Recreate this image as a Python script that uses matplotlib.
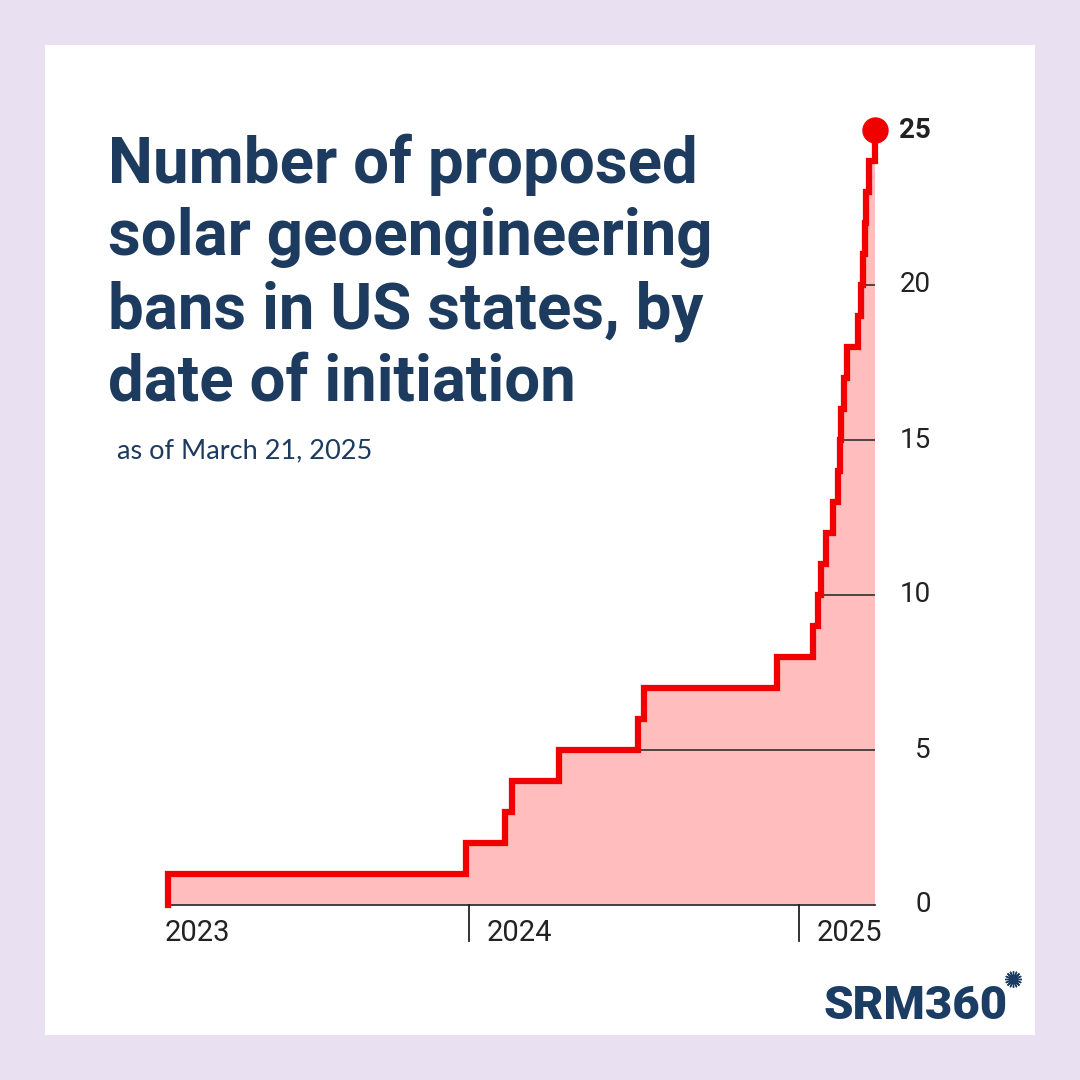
import matplotlib
matplotlib.use("Agg")
import matplotlib.pyplot as plt
import matplotlib.dates as mdates
import matplotlib.transforms as mtransforms
from matplotlib.patches import Rectangle
from datetime import datetime

# cumulative number of proposed bans, by date of initiation
ban_dates = ["2023-02-01", "2023-12-29", "2024-02-10", "2024-02-18", "2024-04-10",
             "2024-07-06", "2024-07-13", "2024-12-08", "2025-01-16", "2025-01-22",
             "2025-01-25", "2025-01-31", "2025-02-08", "2025-02-13", "2025-02-16",
             "2025-02-17", "2025-02-20", "2025-02-23", "2025-03-07", "2025-03-11",
             "2025-03-13", "2025-03-15", "2025-03-16", "2025-03-20", "2025-03-26"]
ban_counts = [1, 2, 3, 4, 5, 6, 7, 8, 9, 10, 11, 12, 13, 14, 15, 16, 17, 18, 19, 20,
              21, 22, 23, 24, 25]
y_ticks = [0, 5, 10, 15, 20, 25]
year_labels = ["2023", "2024", "2025"]

NAVY = "#1D3A5F"
RED = "#F20000"
PINK = "#FFBDBD"
W = 1080.0

x = [mdates.date2num(datetime.strptime(d, "%Y-%m-%d")) for d in ban_dates]
x_years = [mdates.date2num(datetime(int(y), 1, 1)) for y in year_labels]

fig = plt.figure(figsize=(10.8, 10.8), dpi=100)
fig.patch.set_facecolor("#E9E1F1")
fig.add_artist(Rectangle((45 / W, 45 / W), 990 / W, 990 / W, transform=fig.transFigure,
                         facecolor="white", edgecolor="none", zorder=0))

# axes placed so that 2024-01-01 -> px 469, 2025-01-01 -> px 799, 0 -> px 905, 1 unit = 31 px
ax = fig.add_axes([139.9 / W, 1 - 905 / W, (907.2 - 139.9) / W, 806 / W])
ax.set_xlim(mdates.date2num(datetime(2023, 1, 1)), mdates.date2num(datetime(2025, 5, 1)))
ax.set_ylim(0, 26)
ax.axis("off")
ax.patch.set_alpha(0)

fill = ax.fill_between(x, ban_counts, 0, step="post", color=PINK, lw=0, zorder=1)
clip = fill.get_paths()[0]

for v in y_ticks[1:-1]:
    ln, = ax.plot([x[0], x[-1]], [v, v], color="#222222", lw=1.1, zorder=2)
    ln.set_clip_path(clip, ax.transData)

ax.plot([x[0], x[-1]], [0, 0], color="#333333", lw=1.3, zorder=2, clip_on=False)

ax.step([x[0]] + x, [0] + ban_counts, where="post", color=RED, lw=4.5, zorder=3,
        solid_joinstyle="miter", clip_on=False)
ax.plot(x[-1], ban_counts[-1], "o", color=RED, ms=18, zorder=4, clip_on=False)

# y labels on the right
ytr = mtransforms.blended_transform_factory(fig.transFigure, ax.transData)
for v in y_ticks:
    ax.text(931 / W, v, str(v), transform=ytr, ha="right", va="center",
            fontsize=20, family="Roboto", color="#222222",
            fontweight="bold" if v == 25 else "normal")

# year ticks and labels
xtr = mtransforms.blended_transform_factory(ax.transData, fig.transFigure)
for xv, lab in zip(x_years, year_labels):
    if lab != "2023":
        ax.plot([xv, xv], [1 - 905 / W, 1 - 941 / W], transform=xtr, color="#222222",
                lw=1.3, clip_on=False)
        ax.annotate(lab, (xv, 1 - 933 / W), xycoords=xtr, xytext=(12.5, 0),
                    textcoords="offset points", ha="left", va="center",
                    fontsize=21, family="Roboto", color="#222222")
    else:
        ax.annotate(lab, (x[0], 1 - 933 / W), xycoords=xtr, xytext=(-2.5, 0),
                    textcoords="offset points", ha="left", va="center",
                    fontsize=21, family="Roboto", color="#222222")

# title block
title_lines = ["Number of proposed", "solar geoengineering",
               "bans in US states, by", "date of initiation"]
for i, line in enumerate(title_lines):
    fig.text(108 / W, 1 - (183 + 72.5 * i) / W, line, ha="left", va="baseline",
             fontsize=45.8, fontweight="bold", family="Roboto", color=NAVY)
fig.text(117 / W, 1 - 458 / W, "as of March 21, 2025", ha="left", va="baseline",
         fontsize=19.5, family="Lato", color=NAVY)

# logo
fig.text(1008 / W, 1 - 1019 / W, "SRM360", ha="right", va="baseline", fontsize=34,
         fontweight="black", family="Roboto", color="#1B3D63")
fig.add_artist(plt.Line2D([1013 / W], [1 - 979 / W], marker=(16, 2, 0), ms=12,
                          mew=1.0, color="#1B3D63", transform=fig.transFigure))

fig.savefig("out.png", dpi=100, facecolor=fig.get_facecolor())
